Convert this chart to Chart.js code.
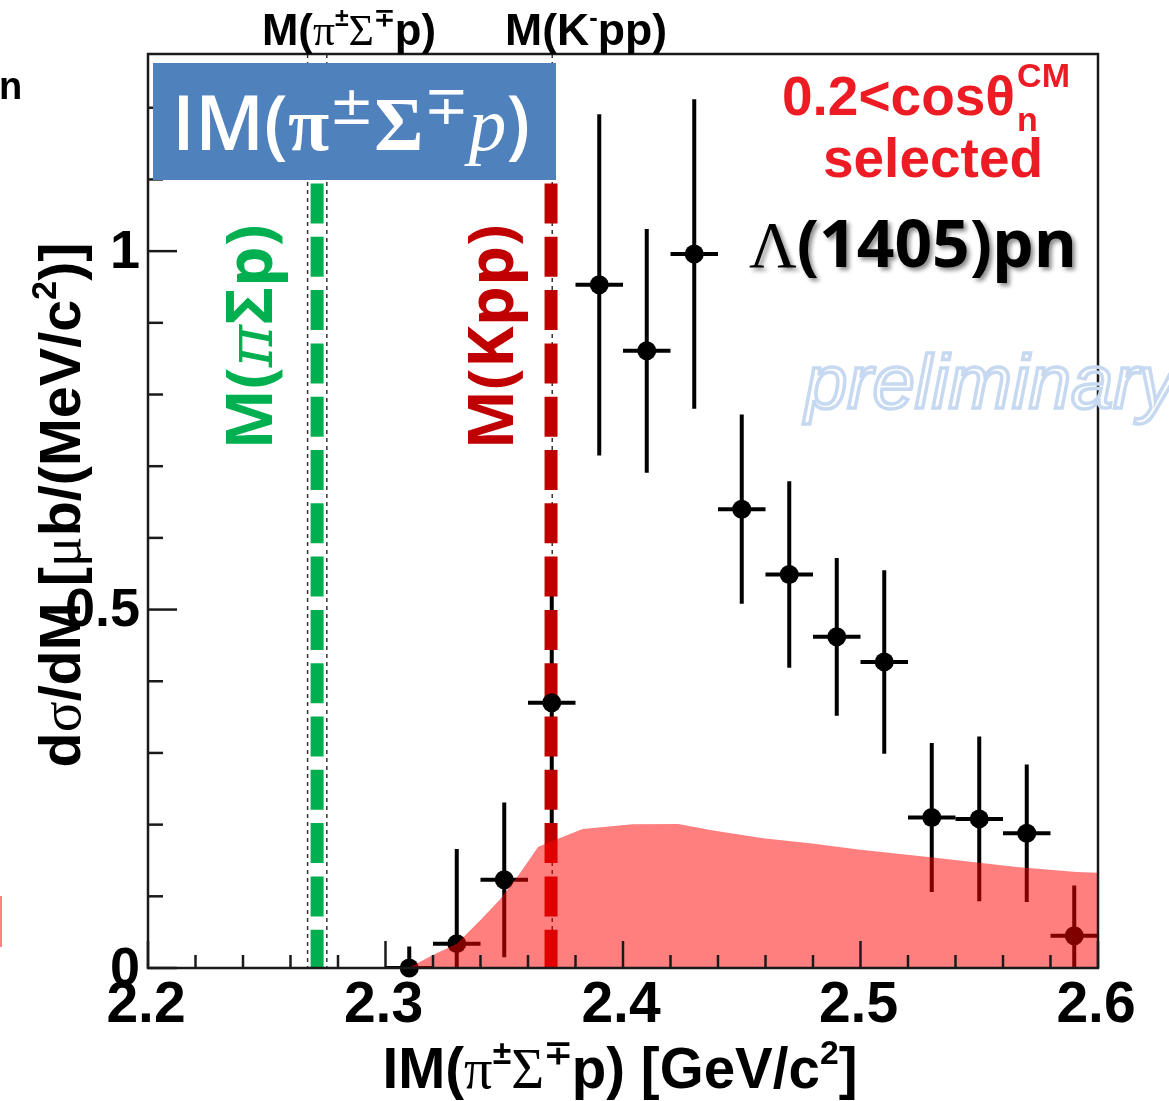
<!DOCTYPE html>
<html lang="en">
<head>
  <meta charset="UTF-8" />
  <title>IM(π±Σ∓p) spectrum</title>
  <script src="https://cdn.jsdelivr.net/npm/chart.js"></script>
  <style>
    html, body { margin: 0; padding: 0; background: #fff; }
  </style>
</head>
<body>
<canvas id="chart" width="1169" height="1101"></canvas>

<script>
  // measured points (bin centres, GeV/c^2) and dsigma/dM (ub/(MeV/c^2))
  const massBins = [2.31, 2.33, 2.35, 2.37, 2.39, 2.41, 2.43, 2.45, 2.47, 2.49, 2.51, 2.53, 2.55, 2.57, 2.59];
  const dsigma = [0.000, 0.034, 0.123, 0.370, 0.953, 0.861, 0.996, 0.640, 0.549, 0.462, 0.427, 0.210, 0.208, 0.188, 0.045];
  const dsigmaErr = [0.030, 0.132, 0.108, 0.170, 0.238, 0.170, 0.216, 0.132, 0.130, 0.110, 0.128, 0.104, 0.115, 0.096, 0.070];
  const binHalfWidth = 0.01;

  // red band (simulation)
  const bandMass = [2.3096, 2.320, 2.330, 2.340, 2.348, 2.3566, 2.3643, 2.383, 2.404, 2.4233, 2.4373, 2.459, 2.4787, 2.500, 2.5305, 2.5658, 2.591, 2.600];
  const bandValue = [0.000, 0.018, 0.034, 0.067, 0.095, 0.132, 0.169, 0.194, 0.2005, 0.201, 0.192, 0.181, 0.174, 0.165, 0.154, 0.141, 0.134, 0.133];

  // thresholds
  const thinLineMass = [2.2672, 2.2753, 2.3702];
  const piSigmaPMass = 2.2712;
  const kppMass = 2.3697;

  // axes
  const xRange = [2.2, 2.6];
  const yRange = [0, 1.275];
  const xTicks = [2.2, 2.3, 2.4, 2.5, 2.6];
  const xTickLabels = ['2.2', '2.3', '2.4', '2.5', '2.6'];
  const yTicks = [0, 0.5, 1];
  const yTickLabels = ['0', '0.5', '1'];

  // text in pieces: [text, font, dy]
  function rich(ctx, parts, x, y, align, targetW) {
    let w = 0;
    parts.forEach(p => { ctx.font = p[1]; w += ctx.measureText(p[0]).width; });
    const s = targetW ? targetW / w : 1;
    ctx.save();
    ctx.translate(x, y);
    ctx.scale(s, s);
    let cx = align === 'center' ? -w / 2 : align === 'right' ? -w : 0;
    ctx.textAlign = 'left';
    ctx.textBaseline = 'alphabetic';
    parts.forEach(p => {
      ctx.font = p[1];
      ctx.fillText(p[0], cx, p[2] || 0);
      cx += ctx.measureText(p[0]).width;
    });
    ctx.restore();
  }

  const decor = {
    id: 'decor',
    beforeDatasetsDraw(chart) {
      const { ctx, chartArea: a, scales: { x, y } } = chart;
      ctx.save();
      ctx.beginPath();
      ctx.rect(a.left, a.top, a.right - a.left, a.bottom - a.top);
      ctx.clip();

      // thin dashed threshold lines
      ctx.strokeStyle = '#333';
      ctx.lineWidth = 1.5;
      ctx.setLineDash([4, 4]);
      thinLineMass.forEach(m => {
        const px = x.getPixelForValue(m);
        ctx.beginPath();
        ctx.moveTo(px, a.top);
        ctx.lineTo(px, a.bottom);
        ctx.stroke();
      });
      ctx.setLineDash([]);

      // error bars
      ctx.strokeStyle = '#000';
      ctx.lineWidth = 4;
      massBins.forEach((m, i) => {
        const px = x.getPixelForValue(m);
        const py = y.getPixelForValue(dsigma[i]);
        ctx.beginPath();
        ctx.moveTo(px, y.getPixelForValue(dsigma[i] + dsigmaErr[i]));
        ctx.lineTo(px, y.getPixelForValue(dsigma[i] - dsigmaErr[i]));
        ctx.moveTo(x.getPixelForValue(m - binHalfWidth), py);
        ctx.lineTo(x.getPixelForValue(m + binHalfWidth), py);
        ctx.stroke();
      });

      // thick dashed mass lines
      ctx.lineWidth = 13;
      ctx.setLineDash([40, 13.3]);
      [[piSigmaPMass, '#00b050'], [kppMass, '#c00000']].forEach(([m, c]) => {
        const px = x.getPixelForValue(m);
        ctx.strokeStyle = c;
        ctx.beginPath();
        ctx.moveTo(px, 183.5);
        ctx.lineTo(px, a.bottom);
        ctx.stroke();
      });
      ctx.restore();
    },
    afterDatasetsDraw(chart) {
      const { ctx, chartArea: a, scales: { x, y } } = chart;
      ctx.save();
      ctx.strokeStyle = '#1a1a1a';
      ctx.lineWidth = 2.5;
      ctx.strokeRect(a.left, a.top, a.right - a.left, a.bottom - a.top);

      // x ticks: minor every 0.02, major every 0.1
      for (let k = 0; k <= 20; k++) {
        const px = x.getPixelForValue(xRange[0] + k * 0.02);
        const len = k % 5 === 0 ? 27 : 13;
        ctx.beginPath();
        ctx.moveTo(px, a.bottom);
        ctx.lineTo(px, a.bottom - len);
        ctx.stroke();
      }
      // y ticks: minor every 0.1, major every 0.5
      for (let k = 0; k <= 12; k++) {
        const py = y.getPixelForValue(k * 0.1);
        const len = k % 5 === 0 ? 29 : 15;
        ctx.beginPath();
        ctx.moveTo(a.left, py);
        ctx.lineTo(a.left + len, py);
        ctx.stroke();
      }

      ctx.fillStyle = '#000';
      ctx.font = 'bold 54px "Liberation Sans"';
      ctx.textAlign = 'right';
      ctx.textBaseline = 'middle';
      yTicks.forEach((v, i) => ctx.fillText(yTickLabels[i], 140, y.getPixelForValue(v) + 2));

      ctx.font = 'bold 57px "Liberation Sans"';
      ctx.textAlign = 'center';
      ctx.textBaseline = 'alphabetic';
      xTicks.forEach((v, i) => ctx.fillText(xTickLabels[i], x.getPixelForValue(v) - 2, 1022));
      ctx.restore();
    },
    afterDraw(chart) {
      const ctx = chart.ctx;
      ctx.save();
      ctx.fillStyle = '#000';

      // axis titles
      const B = 'bold 57px "Liberation Sans"';
      const G = '57px "Liberation Serif"';
      const S = 'bold 34px "Liberation Sans"';
      rich(ctx, [['IM(', B], ['π', G], ['±', S, -24], ['Σ', G], ['∓', S, -24], ['p) [GeV/c', B], ['2', S, -24], [']', B]],
        620, 1088, 'center', 475);
      ctx.save();
      ctx.translate(80, 505);
      ctx.rotate(-Math.PI / 2);
      rich(ctx, [['d', B], ['σ', G], ['/dM [', B], ['μ', G], ['b/(MeV/c', B], ['2', S, -24], [')]', B]],
        0, 0, 'center', 525);
      ctx.restore();

      // labels above the frame
      const T = 'bold 42px "Liberation Sans"';
      const TG = '42px "Liberation Serif"';
      const TS = 'bold 24px "Liberation Sans"';
      rich(ctx, [['M(', T], ['π', TG], ['±', TS, -18], ['Σ', TG], ['∓', TS, -18], ['p)', T]], 349, 45, 'center', 174);
      rich(ctx, [['M(K', T], ['-', TS, -18], ['pp)', T]], 586, 45, 'center', 162);

      // preliminary watermark
      ctx.font = 'italic 76px "Liberation Sans"';
      ctx.textAlign = 'left';
      ctx.strokeStyle = '#c6d9f0';
      ctx.lineWidth = 3.5;
      ctx.strokeText('preliminary', 805, 408);

      // red selection text
      ctx.fillStyle = '#ed1c24';
      ctx.font = 'bold 55px "Liberation Sans"';
      ctx.fillText('0.2<cosθ', 782, 115);
      const wcos = ctx.measureText('0.2<cosθ').width;
      ctx.font = 'bold 34px "Liberation Sans"';
      ctx.fillText('n', 782 + wcos + 2, 131);
      ctx.fillText('CM', 782 + wcos + 2, 87);
      ctx.font = 'bold 55px "Liberation Sans"';
      ctx.textAlign = 'center';
      ctx.fillText('selected', 933, 177);

      // Lambda(1405)pn with shadow
      ctx.save();
      ctx.shadowColor = 'rgba(0,0,0,0.45)';
      ctx.shadowOffsetX = 3;
      ctx.shadowOffsetY = 3;
      ctx.shadowBlur = 4;
      ctx.fillStyle = '#000';
      rich(ctx, [['Λ', '64px "Liberation Serif"'], ['(1405)pn', 'bold 64px "Open Sans"']], 749, 267, 'left', 328);
      ctx.restore();

      // rotated mass labels
      ctx.save();
      ctx.fillStyle = '#00b050';
      ctx.translate(272, 337);
      ctx.rotate(-Math.PI / 2);
      rich(ctx, [['M(', 'bold 60px "Open Sans"'], ['π', 'italic 60px "DejaVu Serif"'], ['Σp)', 'bold 60px "Open Sans"']], 0, 0, 'center', 225);
      ctx.restore();
      ctx.save();
      ctx.fillStyle = '#c00000';
      ctx.translate(513, 337);
      ctx.rotate(-Math.PI / 2);
      rich(ctx, [['M(Kpp)', 'bold 60px "Open Sans"']], 0, 0, 'center', 225);
      ctx.restore();

      // blue title box
      ctx.fillStyle = '#4f81bd';
      ctx.fillRect(153, 63, 403, 117);
      ctx.fillStyle = '#fff';
      rich(ctx, [['IM(', '600 64px "Open Sans"'], ['π', 'bold 64px "Liberation Serif"'], ['±', '46px "DejaVu Sans"', -22],
        ['Σ', 'bold 64px "Liberation Serif"'], ['∓', '46px "DejaVu Sans"', -22], ['p', 'italic 64px "Liberation Serif"'], [')', '600 64px "Open Sans"']],
        172, 150, 'left', 358);

      // clipped bits from the slide edge
      ctx.fillStyle = '#000';
      ctx.font = 'bold 38px "Liberation Sans"';
      ctx.textAlign = 'left';
      ctx.fillText('n', -1, 99);
      ctx.fillStyle = '#ff8080';
      ctx.fillRect(0, 896, 2, 51);
      ctx.restore();
    }
  };

  const chart = new Chart(document.getElementById('chart'), {
    type: 'scatter',
    data: {
      datasets: [
        {
          type: 'line',
          label: 'band',
          data: bandMass.map((m, i) => ({ x: m, y: bandValue[i] })),
          fill: 'origin',
          backgroundColor: 'rgba(255,0,0,0.5)',
          borderWidth: 0,
          pointRadius: 0,
          tension: 0,
          order: 0
        },
        {
          label: 'data',
          data: massBins.map((m, i) => ({ x: m, y: dsigma[i] })),
          backgroundColor: '#000',
          borderWidth: 0,
          pointRadius: 9.5,
          clip: false,
          order: 1
        }
      ]
    },
    options: {
      responsive: false,
      animation: false,
      devicePixelRatio: 1,
      layout: { padding: { left: 148, top: 54, right: 71, bottom: 133 } },
      scales: {
        x: { type: 'linear', min: xRange[0], max: xRange[1], display: false },
        y: { min: yRange[0], max: yRange[1], display: false }
      },
      plugins: { legend: { display: false }, tooltip: { enabled: false } },
      events: []
    },
    plugins: [decor]
  });
</script>
</body>
</html>
